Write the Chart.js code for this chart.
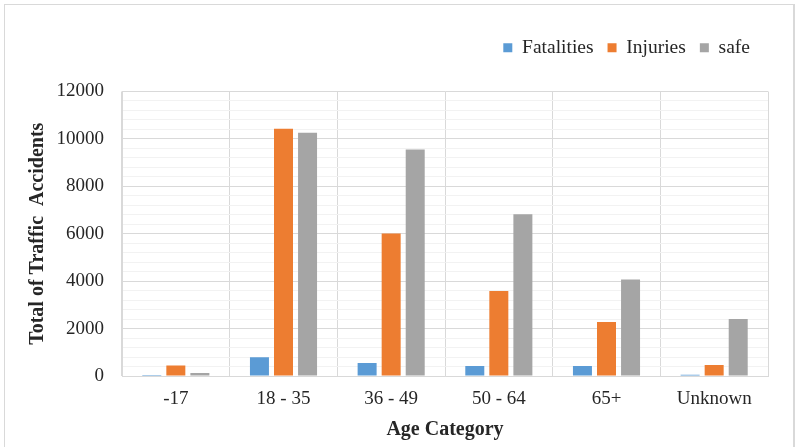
<!DOCTYPE html>
<html>
<head>
<meta charset="utf-8">
<script src="https://cdn.jsdelivr.net/npm/chart.js@4/dist/chart.umd.min.js"></script>
<style>
  html, body { margin: 0; padding: 0; background: #fff; overflow: hidden; }
  #wrap { position: absolute; left: 4px; top: 4px; width: 791px; height: 460px; border: 1px solid #d9d9d9; border-right-width: 2px; box-sizing: border-box; }
  #c { position: absolute; left: 0; top: 0; }
</style>
</head>
<body>
<div id="wrap"></div>
<canvas id="c" width="795" height="447"></canvas>
<script>
// Traffic accidents by age category
const categories = ['-17', '18 - 35', '36 - 49', '50 - 64', '65+', 'Unknown'];
const fatalities = [40, 790, 550, 420, 420, 50];
const injuries   = [440, 10430, 6010, 3580, 2280, 460];
const safe       = [130, 10260, 9550, 6820, 4070, 2400];
const yTicks     = [0, 2000, 4000, 6000, 8000, 10000, 12000];

const serif = '"Liberation Serif", "Times New Roman", serif';
Chart.defaults.font.family = serif;
Chart.defaults.color = '#404040';

const barStyle = { barPercentage: 0.79, categoryPercentage: 0.67, borderWidth: 0 };

// Extra room under the legend, and pull it a little in from the right edge
const legendSpacing = {
  id: 'legendSpacing',
  beforeInit(chart) {
    const fit = chart.legend.fit;
    chart.legend.fit = function () {
      fit.call(this);
      this.height += 24;
    };
  },
  afterLayout(chart) {
    chart.legend.left -= 4;
    chart.legend.right -= 4;
  }
};

new Chart(document.getElementById('c'), {
  type: 'bar',
  data: {
    labels: categories,
    datasets: [
      { label: 'Fatalities', data: fatalities, backgroundColor: '#5b9bd5', ...barStyle },
      { label: 'Injuries', data: injuries, backgroundColor: '#ed7d31', ...barStyle },
      { label: 'safe', data: safe, backgroundColor: '#a5a5a5', ...barStyle }
    ]
  },
  plugins: [legendSpacing],
  options: {
    responsive: false,
    animation: false,
    layout: { padding: { left: 24, right: 27, top: 24, bottom: 5 } },
    plugins: {
      legend: {
        position: 'top',
        align: 'end',
        labels: { boxWidth: 9, boxHeight: 9, padding: 14, font: { size: 19.5 }, color: '#262626' }
      },
      tooltip: { enabled: false }
    },
    scales: {
      x: {
        afterFit: (scale) => { scale.height = 66; },
        grid: { offset: true, color: '#d9d9d9', drawTicks: false },
        border: { color: '#d9d9d9' },
        ticks: { font: { size: 19 }, color: '#262626', padding: 12 },
        title: { display: true, text: 'Age Category', font: { size: 20, weight: 'bold' }, color: '#262626', padding: { top: 0, bottom: 0 } }
      },
      y: {
        min: 0, max: 12000,
        afterFit: (scale) => { scale.width = 98; },
        afterBuildTicks: (axis) => {
          const t = [];
          for (let v = 0; v <= 12000; v += 400) t.push({ value: v });
          axis.ticks = t;
        },
        grid: {
          color: (ctx) => (ctx.tick && yTicks.includes(ctx.tick.value)) ? '#d9d9d9' : '#f2f2f2',
          drawTicks: false
        },
        border: { color: '#d9d9d9' },
        ticks: {
          autoSkip: false,
          font: { size: 19 }, color: '#262626', padding: 18,
          callback: (v) => yTicks.includes(v) ? String(v) : ''
        },
        title: { display: true, text: 'Total of Traffic  Accidents', font: { size: 20, weight: 'bold' }, color: '#262626', padding: { top: 2, bottom: 0 } }
      }
    }
  }
});
</script>
</body>
</html>
